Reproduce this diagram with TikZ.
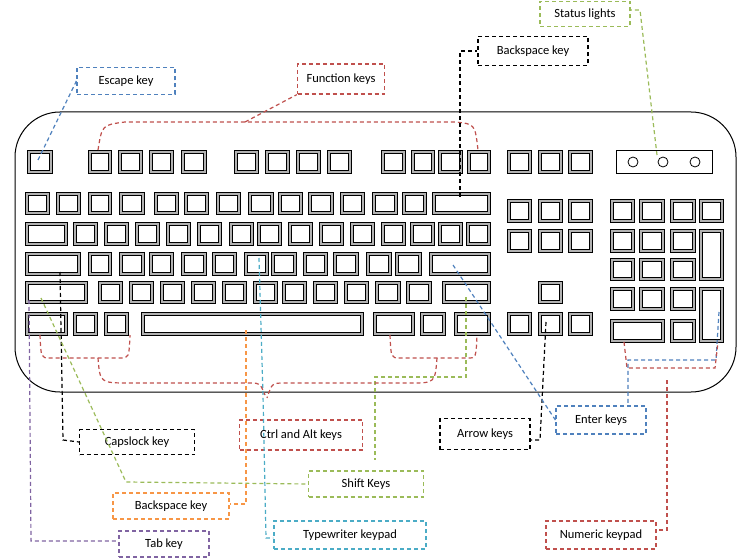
\documentclass[tikz,border=0pt]{standalone}
\usepackage{fontspec}
\setmainfont{Carlito}
\definecolor{cblue}{HTML}{4F81BD}
\definecolor{cred}{HTML}{C0504D}
\definecolor{cgreen}{HTML}{9BBB59}
\definecolor{cpurple}{HTML}{8064A2}
\definecolor{cteal}{HTML}{4BACC6}
\definecolor{corange}{HTML}{F79646}
\tikzset{
 keyout/.style={draw=black,fill=gray!60,line width=0.9pt},
 keyin/.style={draw=black,fill=white,line width=0.6pt},
 lbl/.style={draw=#1,line width=1.2pt,dash pattern=on 4pt off 3pt,inner sep=0pt,font=\fontsize{12.5}{14}\selectfont},
 lead/.style={draw=#1,line width=1.2pt,dash pattern=on 4pt off 3pt}
}
\newcommand\kkey[4]{\draw[keyout] (#1,#2) rectangle (#3,#4); \draw[keyin] (#1+3,#2+3) rectangle (#3-3,#4-3);}
\begin{document}
\begin{tikzpicture}[x=1pt,y=-1pt]
\useasboundingbox[fill=white] (0,0) rectangle (737,559);
% keyboard outline
\draw[line width=1pt,rounded corners=45pt] (15,112) rectangle (736,392);
% function row
\foreach \a/\b in {27/52,88/111,118/142,149/173,181/206,234/258,265/289,296/320,327/351,381/405,411/434,438/462,467/490,507/531,538/562,568/592}
 {\kkey{\a}{150}{\b}{173}}
\draw[line width=0.9pt] (616,150) rectangle (712,173);
\foreach \c in {633,663,695} \draw[line width=0.8pt] (\c,162) circle (5pt);
% typewriter rows
\foreach \a/\b in {25/49,56/80,88/111,119/144,154/178,184/208,216/240,248/273,278/302,308/333,340/364,372/397,402/426,432/490}
 {\kkey{\a}{192}{\b}{214}}
\foreach \a/\b in {25/67,73/97,104/128,135/159,166/190,197/221,229/253,257/281,288/312,319/343,350/374,381/405,410/434,438/462,466/490}
 {\kkey{\a}{222}{\b}{245}}
\foreach \a/\b in {25/80,88/111,119/144,149/173,181/206,212/236,244/268,271/296,303/327,333/358,366/391,395/421,429/490}
 {\kkey{\a}{252}{\b}{275}}
\foreach \a/\b in {25/87,98/122,129/153,160/184,191/215,222/246,253/277,282/306,313/337,344/368,375/400,406/431,442/490}
 {\kkey{\a}{281}{\b}{303}}
\foreach \a/\b in {25/67,73/97,104/128,141/363,373/414,420/445,454/490,507/531,538/562,568/592}
 {\kkey{\a}{312}{\b}{335}}
% navigation
\foreach \a/\b in {507/531,538/562,568/592}
 {\kkey{\a}{199}{\b}{222} \kkey{\a}{229}{\b}{252}}
\kkey{538}{281}{562}{303}
% numeric keypad
\foreach \a/\b in {610/634,639/664,670/695}
 {\kkey{\a}{199}{\b}{222} \kkey{\a}{229}{\b}{252} \kkey{\a}{258}{\b}{280} \kkey{\a}{287}{\b}{310}}
\kkey{699}{199}{723}{222}
\kkey{699}{229}{723}{280}
\kkey{699}{287}{723}{342}
\kkey{610}{319}{664}{342}
\kkey{670}{319}{695}{342}
% labels
\node[lbl=cgreen,minimum width=90pt,minimum height=25pt] (status) at (585,14) {Status lights};
\node[lbl=black,minimum width=110pt,minimum height=29pt] (bstop) at (533,51) {Backspace key};
\node[lbl=cblue,minimum width=98pt,minimum height=27pt] (esc) at (126,81) {Escape key};
\node[lbl=cred,minimum width=87pt,minimum height=30pt] (fn) at (341,79) {Function keys};
\node[lbl=black,minimum width=115pt,minimum height=25pt] (caps) at (137,442) {Capslock key};
\node[lbl=cred,minimum width=123pt,minimum height=30pt] (ctrl) at (301,435) {Ctrl and Alt keys};
\node[lbl=black,minimum width=90pt,minimum height=31pt] (arrow) at (485,434) {Arrow keys};
\node[lbl=cblue,minimum width=90pt,minimum height=28pt] (enter) at (601,420) {Enter keys};
\node[lbl=cgreen,minimum width=115pt,minimum height=26pt] (shift) at (366,484) {Shift Keys};
\node[lbl=corange,minimum width=116pt,minimum height=26pt] (bsbot) at (171,506) {Backspace key};
\node[lbl=cteal,minimum width=152pt,minimum height=28pt] (typew) at (350,535) {Typewriter keypad};
\node[lbl=cpurple,minimum width=90pt,minimum height=26pt] (tab) at (164,544) {Tab key};
\node[lbl=cred,minimum width=110pt,minimum height=28pt] (num) at (601,535) {Numeric keypad};
% leaders
\coordinate (escK) at (38,160);
\draw[lead=cblue] (escK) -- (esc.west);
\draw[lead=cred] (98,150) .. controls (102,125) .. (125,122) -- (455,122) .. controls (475,124) .. (478,150);
\draw[lead=cred] (245,122) -- (fn.south west);
\draw[lead=black] (460,197) -- (460,51) -- (bstop.west);
\draw[lead=cgreen] (657,155) -- (640,10) -- (status.east |- 0,10);
\draw[lead=black] (60,272) -- (63,440) -- (caps.west);
\draw[lead=cpurple] (29,300) -- (31,541) -- (tab.west |- 0,541);
\draw[lead=cgreen] (41,298) -- (126,482) -- (shift.west);
\draw[lead=cgreen] (466,297) -- (466,377) -- (375,377) -- (375,460);
\draw[lead=corange] (246,330) -- (246,504) -- (bsbot.east |- 0,504);
\draw[lead=cteal] (259,258) -- (263,395) -- (266,538) -- (typew.west |- 0,538);
\draw[lead=cred] (40,335) .. controls (41,358) .. (50,358) -- (120,358) .. controls (129,358) .. (130,335);
\draw[lead=cred] (390,335) .. controls (391,358) .. (400,358) -- (468,358) .. controls (476,358) .. (477,335);
\draw[lead=cred] (98,358) .. controls (100,383) .. (130,383) -- (250,383) .. controls (260,383) .. (265,395);
\draw[lead=cred] (437,358) .. controls (435,383) .. (410,383) -- (285,383) .. controls (272,383) .. (267,398);
\draw[lead=black] (546,322) -- (540,440) -- (arrow.east |- 0,440);
\draw[lead=cblue] (453,265) -- (enter.west);
\draw[lead=cblue] (719,312) -- (716,360) -- (628,360) -- (enter.north -| 628,0);
\draw[lead=cred] (624,342) -- (627,368) -- (715,368) -- (718,342);
\draw[lead=cred] (667,380) -- (667,530) -- (num.east |- 0,530);
\end{tikzpicture}
\end{document}
